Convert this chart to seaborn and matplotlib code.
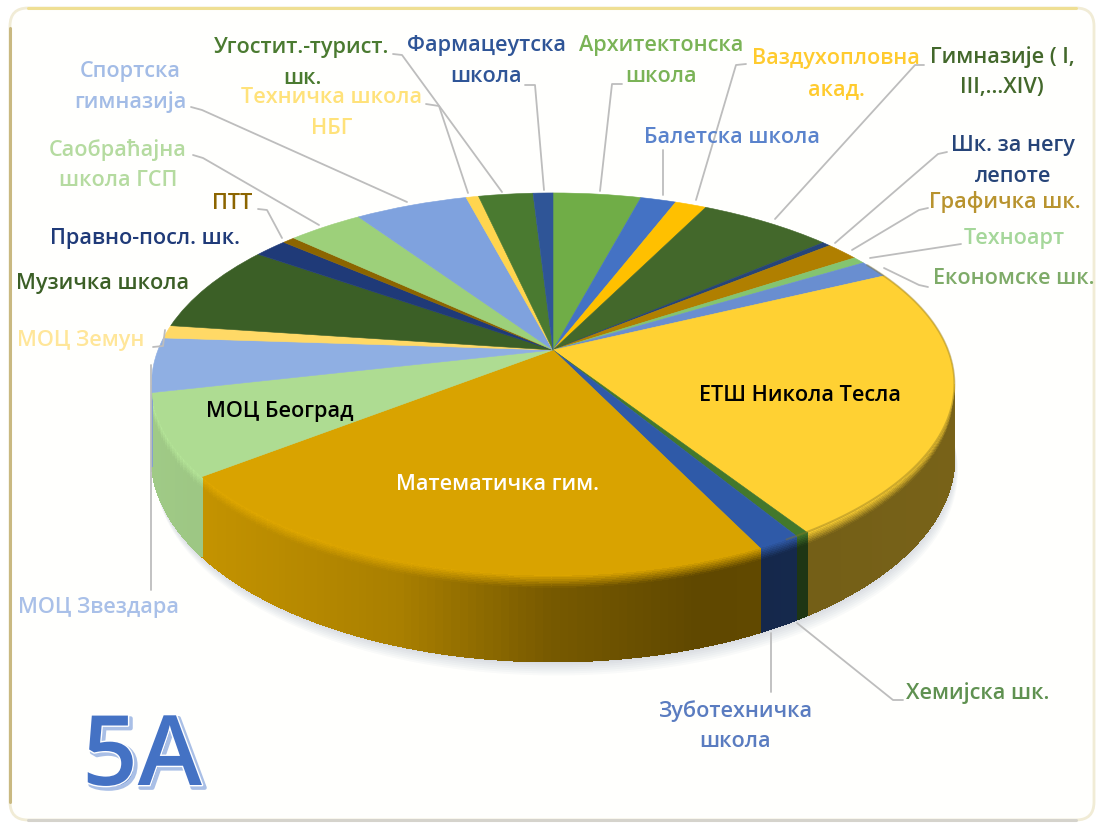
import numpy as np
import seaborn as sns
from matplotlib import pyplot as plt
from matplotlib import patheffects as pe
from matplotlib.collections import PolyCollection
from matplotlib.patches import FancyBboxPatch
from matplotlib.transforms import Transform

# share of each school, clockwise from 12 o'clock (percent)
schools = ["Архитектонска\nшкола", "Балетска школа", "Ваздухопловна\nакад.",
           "Гимназије ( I,\nIII,...XIV)", "Шк. за негу\nлепоте", "Графичка шк.",
           "Техноарт", "Економске шк.", "ЕТШ Никола Тесла", "Хемијска шк.",
           "Зуботехничка\nшкола", "Математичка гим.", "МОЦ Београд", "МОЦ Звездара",
           "МОЦ Земун", "Музичка школа", "Правно-посл. шк.", "ПТТ",
           "Саобраћајна\nшкола ГСП", "Спортска\nгимназија", "Техничка школа\nНБГ",
           "Угостит.-турист.\nшк.", "Фармацеутска\nшкола"]
shares = [4.2, 1.7, 1.5, 6.4, 0.4, 1.6, 0.6, 1.5, 22.9, 0.45, 1.5, 21.8,
          6.9, 4.6, 1.1, 7.5, 1.6, 0.6, 3.6, 5.4, 0.6, 2.6, 0.95]
slice_colors = ["#70ad47", "#4472c4", "#ffc000", "#43682b", "#264478", "#b07f00",
                "#84c470", "#698ed0", "#ffd133", "#43782c", "#2f5aa8", "#d9a300",
                "#aedc92", "#8fafe3", "#ffd966", "#3b5f26", "#1f3a78", "#8c6500",
                "#9dd07a", "#7fa2de", "#ffd54f", "#4a7a30", "#2f5597"]
text_colors = ["#7ab356", "#5a83cc", "#ffcb2e", "#43682b", "#264478", "#b8932e",
               "#a5d79a", "#7eab68", "#000000", "#5f9150", "#5a7cc0", "#ffffff",
               "#000000", "#a9c0e8", "#ffe699", "#3b5f26", "#1f3a78", "#8c6500",
               "#b5dba0", "#a3bce6", "#ffe27a", "#4a7a30", "#2f5597"]

# label centres and leader lines, image pixels
label_pos = [(661, 61), (732, 137), (836, 74), (1002, 72), (1013, 161), (1005, 202),
             (1014, 238), (1014, 279), (800, 395), (978, 693), (735, 726), (497, 484),
             (280, 411), (99, 607), (81, 340), (103, 283), (145, 238), (232, 203),
             (118, 165), (130, 87), (332, 113), (302, 63), (486, 61)]
leaders = [[(622, 84), (612, 84), (600, 191)], [(663, 150), (663, 195)],
           [(746, 64), (736, 65), (696, 200)], [(924, 65), (915, 65), (775, 219)],
           [(947, 152), (938, 154), (835, 243)], [(928, 208), (919, 210), (852, 250)],
           [(961, 244), (870, 258)], [(928, 287), (919, 285), (884, 268)],
           [(903, 700), (893, 700), (797, 623)], [(771, 692), (771, 633)],
           [(151, 590), (151, 365)], [(153, 347), (163, 346), (165, 330)],
           [(258, 209), (267, 210), (282, 238)], [(193, 155), (203, 158), (319, 225)],
           [(191, 107), (202, 110), (407, 202)], [(426, 104), (439, 106), (468, 193)],
           [(393, 54), (402, 55), (502, 192)], [(525, 85), (535, 85), (544, 190)]]

# tilt of the disc
X0, Y0 = 553, 350
A, B, K = 395, 185, 0.178
DEPTH = 71


def project(x, y):
    w = 1 + K * y
    return X0 + A * x / w, Y0 - B * y / w


class DiscTilt(Transform):
    input_dims = 2
    output_dims = 2

    def transform_non_affine(self, values):
        values = np.asarray(values)
        return np.column_stack(project(values[:, 0], values[:, 1]))


def rim(theta, t=0.0):
    x, y = np.cos(np.radians(theta)), np.sin(np.radians(theta))
    px, py = project(x, y)
    return px, py + t * DEPTH / (1 + K * y)


def shade(px, t):
    s = np.interp(px, [150, 207, 400, 550, 700, 950], [0.92, 0.9, 0.78, 0.55, 0.44, 0.47])
    # bright bevel right under the rim
    return np.interp(t, [0, 0.16, 1], [1.05, s, s])


sns.set_theme(style="white")
plt.rcParams['font.family'] = ['Open Sans', 'DejaVu Sans']

fig = plt.figure(figsize=(10.97, 8.23), dpi=100, facecolor="white")
ax = fig.add_axes([0, 0, 1, 1])

palette = sns.color_palette(slice_colors)
wedges, _ = ax.pie(shares, colors=palette, startangle=90, counterclock=False, radius=1,
                   wedgeprops={'linewidth': 0.4, 'zorder': 3})
ax.set_aspect('auto')
ax.set_xlim(0, 1097)
ax.set_ylim(823, 0)
ax.axis('off')

tilt = DiscTilt()
for w in wedges:
    w.set_transform(tilt + ax.transData)
    w.set_edgecolor(w.get_facecolor())

# frame
frame = FancyBboxPatch((24, 22), 1056, 784, boxstyle="round,pad=14,rounding_size=18",
                       fc="#fffffd", ec="#f1ecd6", lw=2, zorder=0)
ax.add_patch(frame)
ax.plot([10, 10], [28, 802], color="#c9b981", lw=2.2, zorder=0.1)
ax.plot([28, 1076], [8, 8], color="#efdf94", lw=2.2, zorder=0.1)
ax.plot([28, 1076], [820, 820], color="#d5d3cc", lw=2.2, zorder=0.1)

# soft shadow under the pie
angles = np.linspace(0, 360, 241)
for off in range(2, 16, 2):
    sx, sy = rim(angles, 1.0)
    ax.fill(sx + off * 0.25, sy + off, color="#51607f", alpha=0.03, lw=0, zorder=0.5)

# wall of the pie, cut in small cells so that it can be shaded
levels = np.append(np.linspace(0, 0.16, 9), [0.5, 1.0])
cells, cell_colors = [], []
for w, col in zip(wedges, palette):
    steps = max(2, int((w.theta2 - w.theta1) / 1.0) + 1)
    th = np.linspace(w.theta1, w.theta2, steps)
    for a, b in zip(th[:-1], th[1:]):
        # the part behind the widest point of the disc cannot be seen
        if np.sin(np.radians((a + b) / 2)) > -K:
            continue
        for t0, t1 in zip(levels[:-1], levels[1:]):
            x1, y1 = rim(a, t0)
            x2, y2 = rim(b, t0)
            x3, y3 = rim(b, t1)
            x4, y4 = rim(a, t1)
            cells.append([(x1, y1), (x2, y2), (x3, y3), (x4, y4)])
            f = shade((x1 + x2) / 2, (t0 + t1) / 2)
            cell_colors.append(tuple(np.clip(np.array(col) * f, 0, 1)))
ax.add_collection(PolyCollection(cells, facecolors=cell_colors, edgecolors=cell_colors,
                                 linewidths=0.8, antialiaseds=False, zorder=2))

# dark inner edge along the right of the top face
rx, ry = rim(np.linspace(-60, 30, 90))
ax.plot(rx, ry, color="#8a7420", lw=1.4, alpha=0.4, zorder=4)

for line in leaders:
    xs, ys = zip(*line)
    ax.plot(xs, ys, color="#bdbdbd", lw=1.3, zorder=2.5 if line[0][1] > 600 else 5,
            solid_capstyle='round')

for name, (x, y), col in zip(schools, label_pos, text_colors):
    ax.text(x, y, name, color=col, fontsize=15.6, fontweight='semibold', ha='center',
            va='center', linespacing=1.6, zorder=6)

ax.text(142, 760, "5А", color="#4472c4", fontsize=70, fontweight='semibold', ha='center',
        va='center', zorder=6,
        path_effects=[pe.Stroke(linewidth=3, foreground="#a9bfe6", offset=(2, -2)),
                      pe.Stroke(linewidth=2, foreground="white"), pe.Normal()])

plt.savefig("out.png", dpi=100)
